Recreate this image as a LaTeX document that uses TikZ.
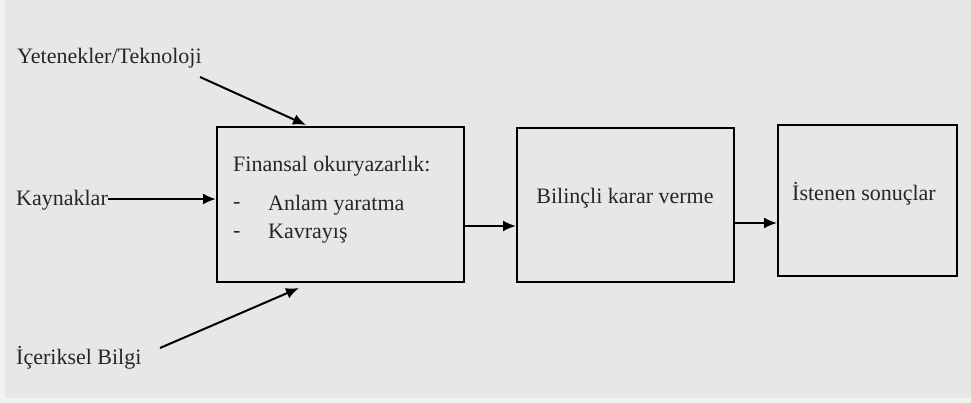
\documentclass[tikz,border=0pt]{standalone}
\usepackage{fontspec}
\setmainfont{Liberation Serif}
\usetikzlibrary{arrows.meta}
\definecolor{bg}{RGB}{231,231,231}
\definecolor{bgl}{RGB}{242,242,242}
\begin{document}
\begin{tikzpicture}[x=1pt,y=-1pt,
  box/.style={draw=black,line width=2pt,fill=none},
  lbl/.style={font=\fontsize{22}{26}\selectfont,inner sep=0pt,text=black!85},
  arr/.style={line width=2pt,-{Latex[length=13pt,width=11pt]}}]
\fill[bgl] (0,0) rectangle (971,403);
\fill[bg] (5,0) rectangle (971,398);
\useasboundingbox (0,0) rectangle (971,403);
% boxes
\node[box,minimum width=247pt,minimum height=155pt,anchor=north west] (fl) at (216,126) {};
\node[box,minimum width=217pt,minimum height=154pt,anchor=north west] (bk) at (516,127) {};
\node[box,minimum width=179pt,minimum height=151pt,anchor=north west] (is) at (777,124) {};
% texts in boxes
\node[lbl,anchor=west] (t1) at (233,166) {Finansal okuryazarlık:};
\node[lbl,anchor=west] (d1) at (233,205) {-};
\node[lbl,anchor=west] (t2) at (268,205) {Anlam yaratma};
\node[lbl,anchor=west] (d2) at (233,234) {-};
\node[lbl,anchor=west] (t3) at (268,234) {Kavrayış};
\node[lbl] (t4) at (625,198) {Bilinçli karar verme};
\node[lbl] (t5) at (864,194) {İstenen sonuçlar};
% outer labels
\node[lbl,anchor=west] (yt) at (17,58) {Yetenekler/Teknoloji};
\node[lbl,anchor=west] (ky) at (16,200) {Kaynaklar};
\node[lbl,anchor=west] (ib) at (16,358) {İçeriksel Bilgi};
\coordinate (ys) at (200,77);
\coordinate (ye) at (306,125);
\coordinate (is0) at (160,348);
\coordinate (ie) at (299,288);
% arrows
\draw[arr] (ky.east |- 0,199) -- (fl.west |- 0,199);
\draw[arr] (ys) -- (ye);
\draw[arr] (is0) -- (ie);
\draw[arr] (fl.east |- 0,226) -- (bk.west |- 0,226);
\draw[arr] (bk.east |- 0,223) -- (is.west |- 0,223);
\end{tikzpicture}
\end{document}
